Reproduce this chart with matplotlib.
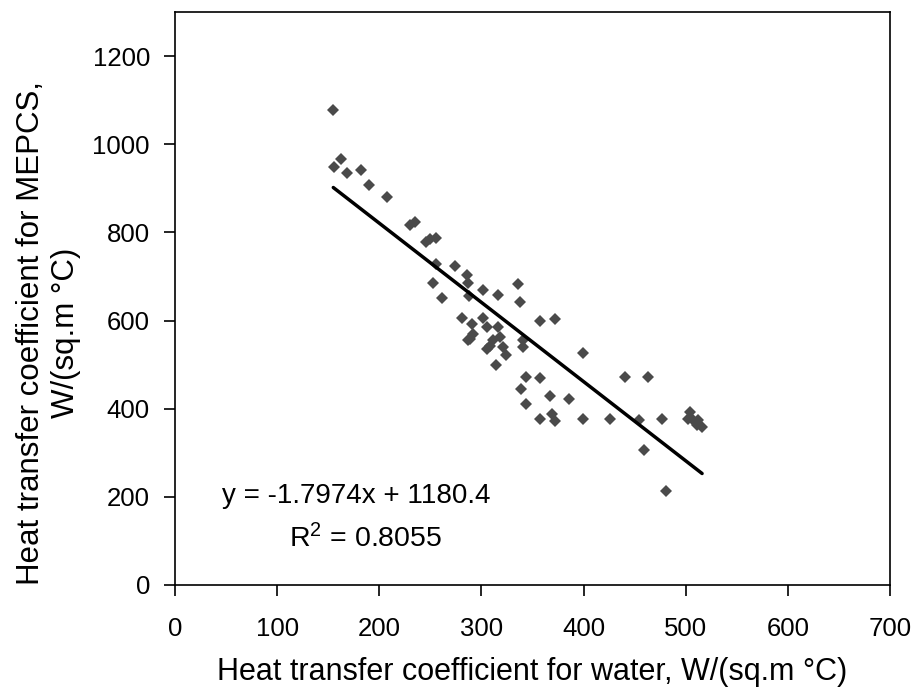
import numpy as np
import matplotlib
matplotlib.use('Agg')
import matplotlib.pyplot as plt

plt.rcParams['font.family'] = ['Liberation Sans', 'DejaVu Sans']

# water-side coefficient vs MEPCS coefficient
h_water = [155, 156, 163, 168, 182, 190, 208, 230, 235, 246, 250, 256,
           256, 274, 253, 261, 286, 287, 288, 302, 316, 336, 338, 281,
           291, 302, 305, 316, 289, 292, 287, 308, 305, 311, 318, 321,
           324, 314, 341, 341, 357, 372, 399, 344, 357, 339, 344, 367,
           386, 357, 369, 372, 399, 426, 441, 463, 454, 477, 459, 481,
           504, 502, 507, 512, 516, 511]
h_mepcs = [1078, 948, 967, 935, 942, 908, 881, 816, 823, 778, 784, 788,
           728, 724, 685, 652, 703, 685, 655, 670, 657, 682, 643, 605,
           592, 605, 585, 585, 558, 569, 556, 543, 536, 555, 562, 539,
           521, 498, 555, 539, 600, 603, 527, 472, 469, 444, 411, 429,
           423, 376, 389, 371, 377, 376, 472, 472, 374, 376, 306, 213,
           392, 377, 374, 374, 359, 363]

slope = -1.7974
intercept = 1180.4
r2 = 0.8055

x_ticks = [0, 100, 200, 300, 400, 500, 600, 700]
y_ticks = [0, 200, 400, 600, 800, 1000, 1200]

fig = plt.figure(figsize=(9.17, 6.87), dpi=100)
ax = fig.add_axes([0.1908, 0.1485, 0.7798, 0.834])

ax.plot(h_water, h_mepcs, 'D', color='#4a4a4a', markersize=6, markeredgewidth=0)

x_fit = np.array([min(h_water), max(h_water)])
ax.plot(x_fit, slope * x_fit + intercept, color='black', linewidth=2.5, solid_capstyle='round')

ax.text(46, 203, 'y = -1.7974x + 1180.4', fontsize=20, va='center', ha='left')
ax.text(112, 106, '$\\mathregular{R^2}$ = %.4f' % r2, fontsize=20.5, va='center', ha='left')

ax.set_xlim(0, 700)
ax.set_ylim(0, 1300)
ax.set_xticks(x_ticks)
ax.set_yticks(y_ticks)
ax.tick_params(direction='out', length=8, width=1.2, labelsize=18.5, colors='black')
ax.tick_params(axis='x', pad=15)
ax.tick_params(axis='y', pad=10)
for s in ax.spines.values():
    s.set_linewidth(1.2)
    s.set_color('black')

ax.set_xlabel('Heat transfer coefficient for water, W/(sq.m °C)', fontsize=22)
ax.set_ylabel('Heat transfer coefficient for MEPCS,\nW/(sq.m °C)', fontsize=22.5, linespacing=1.2)
ax.xaxis.set_label_coords(0.499, -0.1257)
ax.yaxis.set_label_coords(-0.132, 0.44)

fig.savefig('out.png', dpi=100)
